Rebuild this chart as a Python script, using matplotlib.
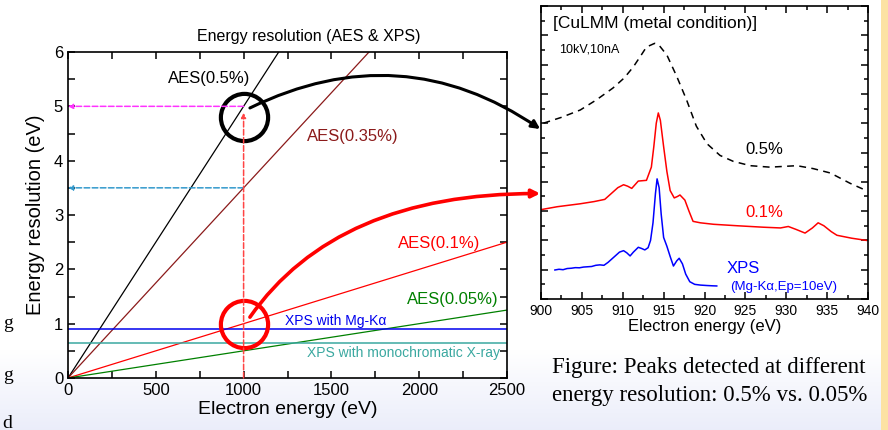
import numpy as np
import matplotlib
matplotlib.use("Agg")
import matplotlib.pyplot as plt
from matplotlib.patches import ConnectionPatch
from matplotlib.ticker import MultipleLocator, NullFormatter

plt.rcParams['font.family'] = ['Liberation Sans', 'DejaVu Sans']

# left panel: resolution vs electron energy
energy_range = [0, 2500]
aes_ratios = [0.005, 0.0035, 0.001, 0.0005]
aes_labels = ["AES(0.5%)", "AES(0.35%)", "AES(0.1%)", "AES(0.05%)"]
aes_colors = ["black", "#8b1a1a", "#ff0000", "#008000"]
xps_levels = [0.9, 0.65]
xps_labels = ["XPS with Mg-K\u03b1", "XPS with monochromatic X-ray"]
xps_colors = ["#0000ee", "#3aa8a0"]

# right panel: CuLMM spectra (arb. units)
e05 = [900.3, 902.5, 904.8, 906.8, 908.8, 910.2, 911.3, 912.2, 912.9, 913.9,
       914.4, 915.4, 916.6, 917.8, 919.0, 920.3, 921.9, 923.5, 925.6, 928.0,
       931.3, 933.3, 935.4, 937.8, 939.8]
i05 = [12.0, 12.4, 12.9, 13.6, 14.4, 15.1, 15.85, 16.6, 17.2, 17.45,
       17.35, 16.65, 15.2, 13.6, 11.8, 10.6, 9.8, 9.4, 9.1, 9.0,
       9.1, 8.9, 8.6, 7.9, 7.4]

e01 = [900.0, 902.0, 904.8, 906.5, 907.8, 908.6, 909.4, 910.1, 910.6, 911.1,
       911.5, 911.9, 912.9, 913.5, 913.8, 914.1, 914.35, 914.6, 915.0, 915.4,
       915.8, 916.3, 916.7, 917.0, 917.6, 918.1, 918.6, 919.5, 921.1, 924.0,
       927.2, 929.3, 930.25, 931.2, 932.3, 933.2, 933.9, 934.6, 935.5, 936.2,
       938.0, 939.8]
i01 = [6.1, 6.3, 6.5, 6.65, 6.8, 7.2, 7.6, 7.8, 7.7, 7.55,
       7.8, 8.05, 8.1, 9.0, 10.4, 12.0, 12.7, 12.2, 10.4, 8.7,
       7.4, 6.9, 7.0, 7.1, 6.75, 6.0, 5.3, 5.2, 5.1, 5.0,
       4.9, 4.85, 4.95, 4.75, 4.5, 4.85, 5.2, 5.0, 4.6, 4.35,
       4.15, 4.0]

exps = [901.7, 902.2, 902.7, 903.2, 903.7, 904.2, 904.7, 905.2, 905.7, 906.2,
        906.7, 907.2, 907.7, 908.2, 908.7, 909.2, 909.6, 910.1, 910.5, 910.9,
        911.3, 911.9, 912.3, 912.7, 913.1, 913.4, 913.7, 914.0, 914.2, 914.45,
        914.7, 915.0, 915.4, 915.8, 916.2, 916.6, 916.9, 917.3, 917.7, 918.2,
        918.8, 919.5, 920.3, 921.0, 921.5]
ixps = [1.98, 2.03, 2.0, 2.08, 2.1, 2.14, 2.13, 2.18, 2.2, 2.22,
        2.3, 2.33, 2.3, 2.5, 2.75, 3.0, 3.2, 3.3, 3.15, 2.94,
        3.2, 3.53, 3.45, 3.35, 3.5, 4.0, 5.2, 7.2, 8.2, 7.6,
        5.8, 4.2, 3.6, 2.9, 2.25, 2.6, 2.78, 2.4, 1.7, 1.18,
        1.0, 0.95, 0.92, 0.9, 0.89]

fig = plt.figure(figsize=(8.88, 4.30), dpi=100)

# slide background: lavender fade at the bottom, orange strip on the right
bg = np.ones((430, 888, 3))
fade = np.clip((np.arange(430) - 350) / 80.0, 0, 1)[:, None]
bg = bg * (1 - fade[:, :, None]) + np.array([0.92, 0.93, 0.98]) * fade[:, :, None]
bg[:, 880:, :] = np.array([0.99, 0.89, 0.64])
ax_bg = fig.add_axes([0, 0, 1, 1], zorder=-10)
ax_bg.imshow(bg, aspect='auto')
ax_bg.axis('off')

# bits of slide text peeking in from the left
for ty, ch in zip([323, 375, 423], ["g", "g", "d"]):
    fig.text(0.003, 1 - ty / 430, ch, family='Liberation Serif', fontsize=14, va='center')

# ---- left axes
ax1 = fig.add_axes([68 / 888, 1 - 378 / 430, 439 / 888, 326 / 430])
for r, c in zip(aes_ratios, aes_colors):
    ax1.plot(energy_range, [r * e for e in energy_range], color=c, lw=0.9)
for lv, c in zip(xps_levels, xps_colors):
    ax1.plot(energy_range, [lv, lv], color=c, lw=1.1)

ax1.annotate('', xy=(0, 5), xytext=(1000, 5),
             arrowprops=dict(arrowstyle='-|>', ls='--', color='#ff33ff', lw=1.1,
                             shrinkA=0, shrinkB=0, mutation_scale=7))
ax1.annotate('', xy=(0, 3.5), xytext=(1000, 3.5),
             arrowprops=dict(arrowstyle='-|>', ls='--', color='#3399cc', lw=1.1,
                             shrinkA=0, shrinkB=0, mutation_scale=7))
ax1.annotate('', xy=(1000, 4.88), xytext=(1000, 0),
             arrowprops=dict(arrowstyle='-|>', ls='--', color='#ff4444', lw=1.1,
                             shrinkA=0, shrinkB=0, mutation_scale=7))

ax1.plot(1000, 4.8, 'o', ms=34, mfc='none', mec='black', mew=3)
ax1.plot(1000, 1.0, 'o', ms=34, mfc='none', mec='#ff0000', mew=3)

aes_pos = [(569, 5.52), (1361, 4.44), (1879, 2.48), (1930, 1.44)]
for (tx, ty), lab, c in zip(aes_pos, aes_labels, aes_colors):
    ax1.text(tx, ty, lab, color=c, fontsize=12, va='center')
ax1.text(1236, 1.05, xps_labels[0], color=xps_colors[0], fontsize=10, va='center')
ax1.text(2460, 0.46, xps_labels[1], color=xps_colors[1], fontsize=10, va='center', ha='right')

ax1.set_xlim(0, 2500)
ax1.set_ylim(0, 6)
ax1.xaxis.set_major_locator(MultipleLocator(500))
ax1.xaxis.set_minor_locator(MultipleLocator(250))
ax1.yaxis.set_major_locator(MultipleLocator(1))
ax1.yaxis.set_minor_locator(MultipleLocator(0.5))
ax1.tick_params(which='both', direction='in', top=True, right=True, width=1.1, labelsize=12)
ax1.tick_params(which='major', length=5)
ax1.tick_params(which='minor', length=5)
for s in ax1.spines.values():
    s.set_linewidth(1.2)
ax1.set_xlabel("Electron energy (eV)", fontsize=14, labelpad=2)
ax1.set_ylabel("Energy resolution (eV)", fontsize=14.5, labelpad=6)
ax1.set_title("Energy resolution (AES & XPS)", fontsize=11.5, pad=8, x=0.548)

# ---- right axes
ax2 = fig.add_axes([541 / 888, 1 - 299 / 430, 327 / 888, 293 / 430])
ax2.plot(e05, i05, color='black', lw=1.1, ls=(0, (4.5, 3.5)))
ax2.plot(e01, i01, color='#ff0000', lw=1.1)
ax2.plot(exps, ixps, color='#0000ff', lw=1.1)

ax2.text(901.5, 18.8, "[CuLMM (metal condition)]", fontsize=12.5, va='center')
ax2.text(902.2, 17.0, "10kV,10nA", fontsize=9, va='center')
ax2.text(925.0, 10.2, "0.5%", fontsize=12, va='center')
ax2.text(925.0, 5.9, "0.1%", fontsize=12, va='center', color='#ff0000')
ax2.text(922.75, 2.1, "XPS", fontsize=12, va='center', color='#0000ff')
ax2.text(923.1, 0.8, "(Mg-K\u03b1,Ep=10eV)", fontsize=9.5, va='center', color='#0000ff')

ax2.set_xlim(900, 940)
ax2.set_ylim(0, 20)
ax2.xaxis.set_major_locator(MultipleLocator(5))
ax2.xaxis.set_minor_locator(MultipleLocator(2.5))
ax2.yaxis.set_major_locator(MultipleLocator(2))
ax2.yaxis.set_minor_locator(MultipleLocator(1))
ax2.yaxis.set_major_formatter(NullFormatter())
ax2.tick_params(which='both', direction='in', top=True, right=True, width=1.1, labelsize=10)
ax2.tick_params(which='major', length=5)
ax2.tick_params(which='minor', length=3)
for s in ax2.spines.values():
    s.set_linewidth(1.2)
ax2.set_xlabel("Electron energy (eV)", fontsize=12, labelpad=1)

# connecting arrows between the panels
con1 = ConnectionPatch(xyA=(1036, 4.97), coordsA=ax1.transData,
                       xyB=(899.9, 11.6), coordsB=ax2.transData,
                       arrowstyle='-|>', connectionstyle='arc3,rad=-0.29',
                       color='black', lw=2.2, mutation_scale=12)
con2 = ConnectionPatch(xyA=(1036, 1.12), coordsA=ax1.transData,
                       xyB=(899.9, 7.2), coordsB=ax2.transData,
                       arrowstyle='-|>', connectionstyle='angle3,angleA=55,angleB=0',
                       color='#ff0000', lw=2.6, mutation_scale=12)
fig.add_artist(con1)
fig.add_artist(con2)

fig.text(552 / 888, 1 - 368 / 430, "Figure: Peaks detected at different",
         family='Liberation Serif', fontsize=16.5, va='center')
fig.text(552 / 888, 1 - 396 / 430, "energy resolution: 0.5% vs. 0.05%",
         family='Liberation Serif', fontsize=16.5, va='center')

fig.savefig("out.png", dpi=100)
